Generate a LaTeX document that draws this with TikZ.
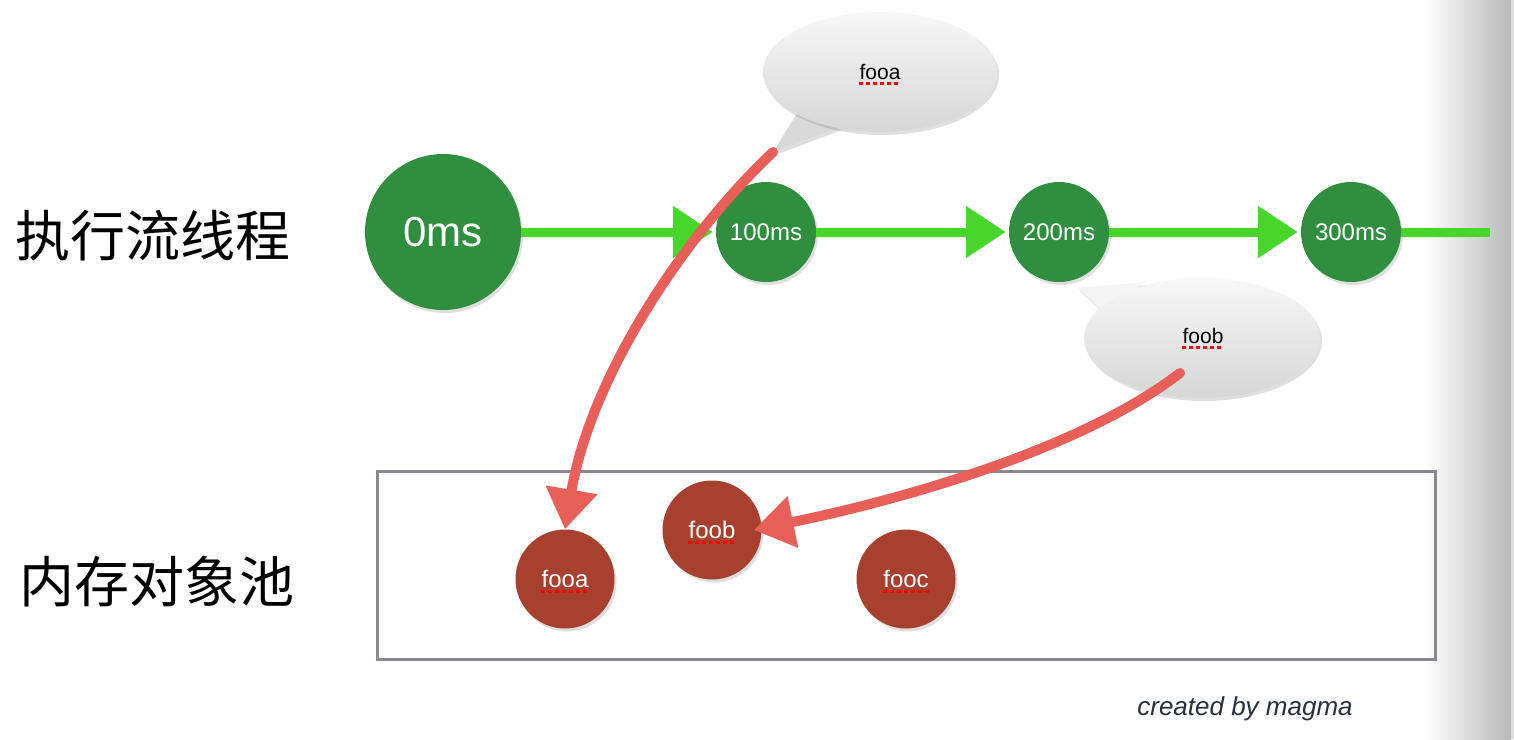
\documentclass[tikz,border=0pt]{standalone}
\usepackage{fontspec}
\setmainfont{Liberation Sans}
\newfontfamily\cjk{Noto Sans CJK SC}
\usetikzlibrary{arrows.meta,shadows}
\definecolor{tgreen}{RGB}{47,143,62}
\definecolor{agreen}{RGB}{72,214,44}
\definecolor{pred}{RGB}{168,64,47}
\definecolor{ared}{RGB}{232,94,88}
\definecolor{boxgray}{RGB}{136,136,144}
\definecolor{sig}{RGB}{40,48,62}
\begin{document}
\begin{tikzpicture}[x=1pt,y=-1pt,
  shad/.style={drop shadow={shadow xshift=2pt,shadow yshift=-3pt,opacity=0.25}},
  gcirc/.style={circle,fill=tgreen,draw=none,inner sep=0pt,shad},
  rcirc/.style={circle,fill=pred,draw=none,inner sep=0pt,minimum size=99pt,shad},
  wtext/.style={text=white,inner sep=0pt,font=\fontsize{24}{28}\selectfont},
  btext/.style={text=black,inner sep=0pt,font=\fontsize{21}{25}\selectfont},
  spell/.style={draw=red,line width=3pt,dash pattern=on 4pt off 3pt},
  flow/.style={draw=agreen,line width=9pt,-{Triangle[length=40pt,width=50pt]}},
  flowend/.style={draw=agreen,line width=9pt},
  ref/.style={draw=ared,line width=10pt,line cap=round,-{Triangle[length=40pt,width=50pt]}},
  bubble/.style={top color=gray!6,bottom color=gray!32,draw=none},
  cjklabel/.style={font=\cjk\fontsize{55}{60}\selectfont,text=black,inner sep=0pt}
]
\useasboundingbox (0,0) rectangle (1514,739);
\fill[white] (0,0) rectangle (1514,739);
% right page edge shading
\shade[left color=white,right color=gray!55] (1425,0) rectangle (1511,739);
\fill[gray!25] (1511,0) rectangle (1514,739);

% side labels
\node[cjklabel] (lblflow) at (153,236) {执行流线程};
\node[cjklabel] (lblpool) at (157,582) {内存对象池};

% memory pool box
\node[draw=boxgray,line width=3pt,minimum width=1058pt,minimum height=188pt,inner sep=0pt] (pool) at (906,565) {};

% timeline circles
\node[gcirc,minimum size=156pt] (t0) at (443,232) {};
\node[gcirc,minimum size=100pt] (t100) at (766,232) {};
\node[gcirc,minimum size=100pt] (t200) at (1059,232) {};
\node[gcirc,minimum size=100pt] (t300) at (1351,232) {};
\node[text=white,inner sep=0pt,font=\fontsize{42}{48}\selectfont] (l0) at (t0) {0ms};
\node[wtext] (l100) at (t100) {100ms};
\node[wtext] (l200) at (t200) {200ms};
\node[wtext] (l300) at (t300) {300ms};
\coordinate (flowend) at (1490,232);

% green flow arrows
\draw[flow] (t0.east) -- ([xshift=-3pt]t100.west);
\draw[flow] (t100.east) -- ([xshift=-3pt]t200.west);
\draw[flow] (t200.east) -- ([xshift=-3pt]t300.west);
\draw[flowend] (t300.east) -- (flowend);

% speech bubbles
\fill[gray!30,shad] (798,112) -- (773,152) -- (840,127) -- cycle;
\shade[bubble,shad] (880,72) ellipse[x radius=117pt,y radius=60pt];
\node[btext] (ba) at (880,72) {fooa};
\draw[spell] ([yshift=-4pt]ba.base west) -- ([yshift=-4pt]ba.base east);
\coordinate (tailA) at (773,152);

\fill[gray!8,shad] (1104,312) -- (1078,288) -- (1145,282) -- cycle;
\shade[bubble,shad] (1202,338) ellipse[x radius=118pt,y radius=60pt];
\node[btext] (bb) at (1203,336) {foob};
\draw[spell] ([yshift=-4pt]bb.base west) -- ([yshift=-4pt]bb.base east);
\coordinate (tailB) at (1180,373);

% pool objects
\node[rcirc] (oa) at (565,579) {};
\node[rcirc] (ob) at (712,530) {};
\node[rcirc] (oc) at (906,579) {};
\node[wtext] (la) at (oa) {fooa};
\node[wtext] (lb) at (ob) {foob};
\node[wtext] (lc) at (oc) {fooc};
\draw[spell] ([yshift=-4pt]la.base west) -- ([yshift=-4pt]la.base east);
\draw[spell] ([yshift=-4pt]lb.base west) -- ([yshift=-4pt]lb.base east);
\draw[spell] ([yshift=-4pt]lc.base west) -- ([yshift=-4pt]lc.base east);

% red reference arrows
\draw[ref] (tailA) .. controls (680,240) and (590,380) .. (oa.north);
\draw[ref] (tailB) .. controls (1080,450) and (900,500) .. ([xshift=-8pt]ob.east);

% signature
\node[font=\itshape\fontsize{26}{30}\selectfont,text=sig,inner sep=0pt] (sigtext) at (1245,709) {created by magma};
\end{tikzpicture}
\end{document}
